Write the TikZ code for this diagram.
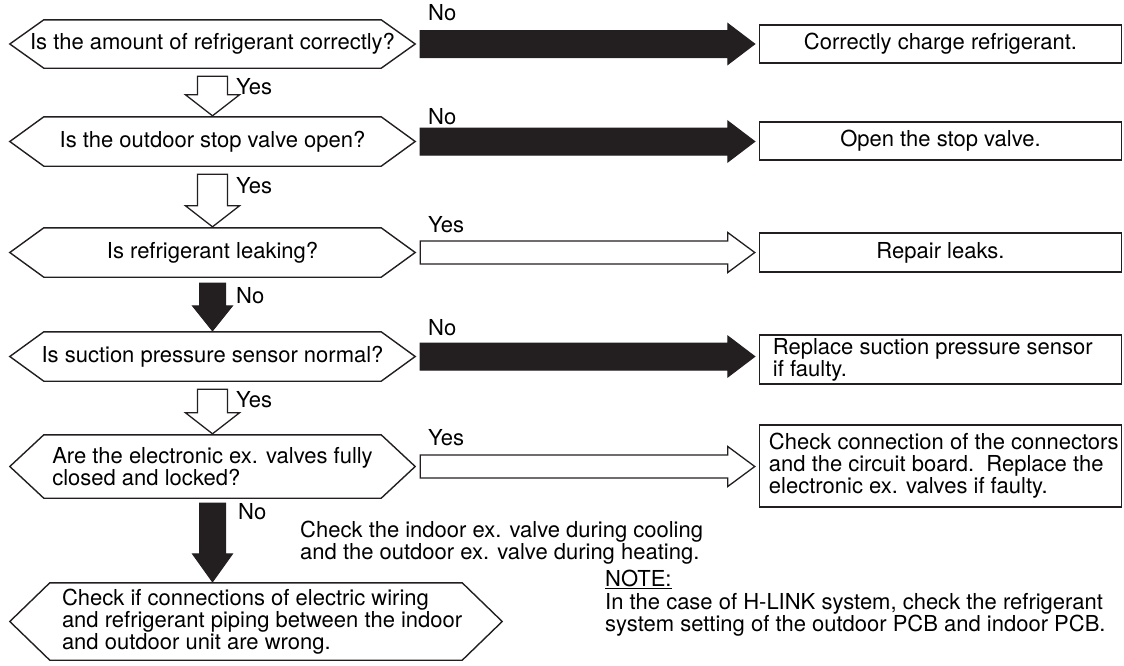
\documentclass[tikz,border=0pt]{standalone}
\usepackage{fontspec}
\setmainfont{TeX Gyre Heros}
\usetikzlibrary{calc}
\definecolor{ink}{HTML}{231F20}
\newcommand\hexoutline[2]{\draw[hexline] (#1.west) -- ($(#1.north west)+(#2,0)$) -- ($(#1.north east)+(-#2,0)$) -- (#1.east) -- ($(#1.south east)+(-#2,0)$) -- ($(#1.south west)+(#2,0)$) -- cycle;}
% style, from, to, shaft half, head half, head length
\newcommand\harrow[6]{\draw[#1] let \p1=($(#2.east)+(5,0)$), \p2=($(#3.west)+(-4,0)$) in
  (\x1,\y1+#4pt) -- (\x2-#6pt,\y1+#4pt) -- (\x2-#6pt,\y1+#5pt) -- (\x2,\y1) -- (\x2-#6pt,\y1-#5pt) -- (\x2-#6pt,\y1-#4pt) -- (\x1,\y1-#4pt) -- cycle;}
\newcommand\varrow[7]{\draw[#1] let \p1=($(#2.south)+(0,#7)$), \p2=($(#3.north)+(0,-1)$) in
  (\x1-#4pt,\y1) -- (\x1-#4pt,\y2+#6pt) -- (\x1-#5pt,\y2+#6pt) -- (\x1,\y2) -- (\x1+#5pt,\y2+#6pt) -- (\x1+#4pt,\y2+#6pt) -- (\x1+#4pt,\y1) -- cycle;}
\begin{document}
\begin{tikzpicture}[x=1pt,y=-1pt,
  every node/.style={inner sep=0pt, font=\fontsize{22}{22}\selectfont},
  hexnode/.style={minimum width=405pt, align=left},
  hexline/.style={draw=ink, line width=1.4pt, line join=miter},
  rbox/.style={draw=ink, line width=1.5pt, minimum width=362pt, align=center},
  intext/.style={anchor=west, align=left},
  blk/.style={draw=ink, fill=ink, line width=1pt, line join=miter},
  wht/.style={draw=ink, fill=white, line width=1.3pt, line join=miter},
  lbl/.style={anchor=west}]
\useasboundingbox (0,0) rectangle (1124,665);

% decisions
\node[hexnode, minimum height=48pt] (h1) at (212.5,44) {Is the amount of refrigerant correctly?};
\node[hexnode, minimum height=49pt] (h2) at (212.5,141.5) {Is the outdoor stop valve open?};
\node[hexnode, minimum height=49pt] (h3) at (212.5,252.5) {Is refrigerant leaking?};
\node[hexnode, minimum height=49pt] (h4) at (212.5,356.5) {Is suction pressure sensor normal?};
\node[hexnode, minimum height=63pt] (h5) at (212.5,466.5) {Are the electronic ex. valves fully\\closed and locked?};
\node[hexnode, minimum width=492pt, minimum height=77pt] (h6) at (256,621.5) {};
\node[intext] (t6) at ($(h6.west)+(52,0)$) {Check if connections of electric wiring\\and refrigerant piping between the indoor\\and outdoor unit are wrong.};
\hexoutline{h1}{34}
\hexoutline{h2}{34}
\hexoutline{h3}{34}
\hexoutline{h4}{34}
\hexoutline{h5}{34}
\hexoutline{h6}{40}

% actions
\node[rbox, minimum height=38pt] (b1) at (940.5,44) {Correctly charge refrigerant.};
\node[rbox, minimum height=38pt] (b2) at (940.5,141) {Open the stop valve.};
\node[rbox, minimum height=39pt] (b3) at (940.5,252.5) {Repair leaks.};
\node[rbox, minimum height=49pt] (b4) at (940.5,359.5) {};
\node[intext] (t4) at ($(b4.west)+(14,0)$) {Replace suction pressure sensor\\if faulty.};
\node[rbox, minimum height=82pt] (b5) at (940.5,466) {};
\node[intext] (t5) at ($(b5.west)+(10,0)$) {Check connection of the connectors\\and the circuit board.\ \ Replace the\\electronic ex. valves if faulty.};

% horizontal arrows
\harrow{blk}{h1}{b1}{13.5}{20.5}{27}
\harrow{blk}{h2}{b2}{13.5}{20.5}{27}
\harrow{wht}{h3}{b3}{11.5}{20}{27}
\harrow{blk}{h4}{b4}{13.5}{20.5}{27}
\harrow{wht}{h5}{b5}{11.5}{20}{27}

% vertical arrows
\varrow{wht}{h1}{h2}{15}{27}{21}{8}
\varrow{wht}{h2}{h3}{15}{27}{21}{8}
\varrow{blk}{h3}{h4}{13}{20}{25}{6}
\varrow{wht}{h4}{h5}{15}{27}{21}{8}
\varrow{blk}{h5}{h6}{13}{20}{28}{5}

% labels
\node[lbl] (l1) at (428,13) {No};
\node[lbl] (l2) at (428,117) {No};
\node[lbl] (l3) at (428,225) {Yes};
\node[lbl] (l4) at (428,328) {No};
\node[lbl] (l5) at (428,438) {Yes};
\node[lbl] (d1) at (236,87) {Yes};
\node[lbl] (d2) at (236,186) {Yes};
\node[lbl] (d3) at (236,296) {No};
\node[lbl] (d4) at (236,400) {Yes};
\node[lbl] (d5) at (238,512) {No};
\node[lbl, align=left] (cmt) at (300,543) {Check the indoor ex. valve during cooling\\and the outdoor ex. valve during heating.};
\node[lbl] (note) at (605,579) {\underline{NOTE:}};
\node[lbl, align=left] (notetxt) at (605,615) {In the case of H-LINK system, check the refrigerant\\system setting of the outdoor PCB and indoor PCB.};
\end{tikzpicture}
\end{document}
